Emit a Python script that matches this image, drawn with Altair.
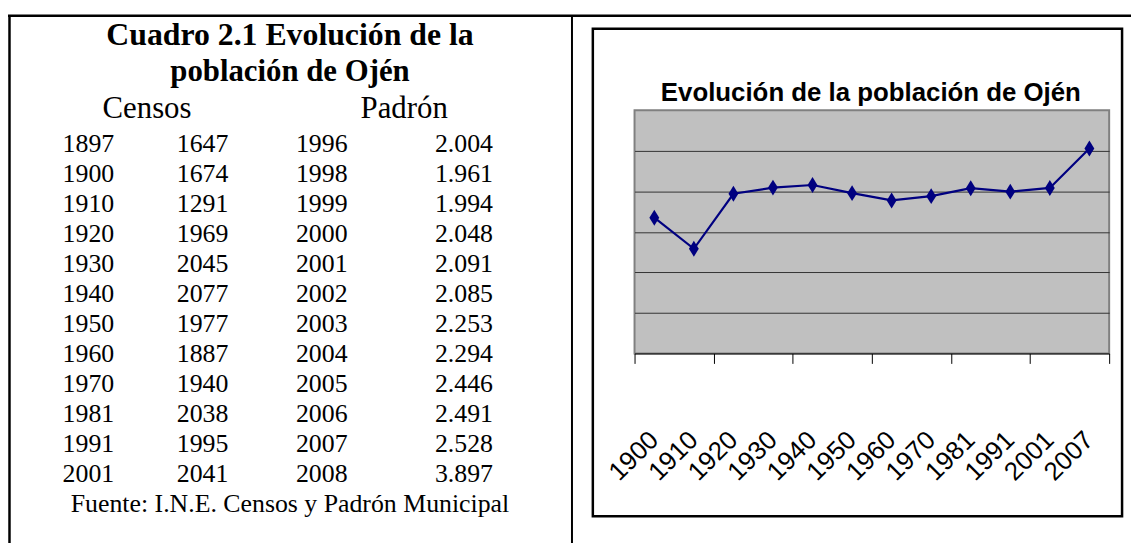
import altair as alt
import pandas as pd

# ---------------- data ----------------
censos_years = ["1897", "1900", "1910", "1920", "1930", "1940", "1950", "1960", "1970", "1981", "1991", "2001"]
censos_values = ["1647", "1674", "1291", "1969", "2045", "2077", "1977", "1887", "1940", "2038", "1995", "2041"]
padron_years = ["1996", "1998", "1999", "2000", "2001", "2002", "2003", "2004", "2005", "2006", "2007", "2008"]
padron_values = ["2.004", "1.961", "1.994", "2.048", "2.091", "2.085", "2.253", "2.294", "2.446", "2.491", "2.528", "3.897"]

chart_years = ["1900", "1910", "1920", "1930", "1940", "1950", "1960", "1970", "1981", "1991", "2001", "2007"]
chart_values = [1674, 1291, 1969, 2045, 2077, 1977, 1887, 1940, 2038, 1995, 2041, 2528]
y_ticks = [0, 500, 1000, 1500, 2000, 2500, 3000]

table_title = ["Cuadro 2.1 Evolución de la", "población de Ojén"]
table_headers = ["Censos", "Padrón"]
table_source = "Fuente: I.N.E. Censos y Padrón Municipal"
chart_title = "Evolución de la población de Ojén"

# ---------------- layout (page pixels) ----------------
PLOT_L, PLOT_T = 639, 109
W, H = 478, 245
CANVAS_W, CANVAS_H = 1131, 537


def X(px):
    return px - PLOT_L


def Y(py):
    return py - PLOT_T


one = alt.Data(values=[{"k": 1}])
SERIF = "Liberation Serif, Times New Roman, serif"
SANS = "Liberation Sans, Arial, sans-serif"

# ---------------- table ----------------
tbl = pd.DataFrame({
    "row": list(range(len(censos_years))),
    "cy": censos_years,
    "cv": censos_values,
    "py": padron_years,
    "pv": padron_values,
})
tbase = alt.Chart(tbl).transform_calculate(ypix=f"{Y(151)} + datum.row * 30.2")


def col(field, left):
    return tbase.mark_text(font=SERIF, fontSize=26, align="left", baseline="alphabetic", color="black").encode(
        x=alt.value(X(left)),
        y=alt.Y("ypix:Q", scale=None, axis=None),
        text=alt.Text(f"{field}:N"),
    )


def label(txt, cx, base, size, weight="normal"):
    return alt.Chart(one).mark_text(
        text=txt, font=SERIF, fontSize=size, fontWeight=weight, align="center",
        baseline="alphabetic", color="black"
    ).encode(x=alt.value(X(cx)), y=alt.value(Y(base)))


table_layers = [
    label(table_title[0], 292, 43, 32, "bold"),
    label(table_title[1], 292, 80, 31, "bold"),
    label(table_headers[0], 148, 117, 31),
    label(table_headers[1], 407, 117, 31),
    col("cy", 63), col("cv", 178), col("py", 298), col("pv", 438),
    label(table_source, 292, 514, 26),
]

# frame lines
top_line = alt.Chart(one).mark_rule(color="black", strokeWidth=2.5).encode(
    x=alt.value(X(8)), x2=alt.value(X(1139)), y=alt.value(Y(14)))
left_line = alt.Chart(one).mark_rule(color="black", strokeWidth=2.5).encode(
    x=alt.value(X(9.5)), y=alt.value(Y(14)), y2=alt.value(Y(545)))
divider = alt.Chart(one).mark_rule(color="black", strokeWidth=2).encode(
    x=alt.value(X(576)), y=alt.value(Y(14)), y2=alt.value(Y(545)))
chart_box = alt.Chart(one).mark_rect(fill="white", fillOpacity=0, stroke="black", strokeWidth=2.5).encode(
    x=alt.value(X(597)), x2=alt.value(X(1130)), y=alt.value(Y(27)), y2=alt.value(Y(518)))
ctitle = alt.Chart(one).mark_text(
    text=chart_title, font=SANS, fontSize=26, fontWeight="bold", align="center",
    baseline="alphabetic", color="black"
).encode(x=alt.value(X(877)), y=alt.value(Y(100)))

# ---------------- line chart ----------------
cd = pd.DataFrame({"i": list(range(len(chart_years))), "year": chart_years, "value": chart_values})
cbase = alt.Chart(cd).transform_calculate(pos="datum.i + 0.5")
boundaries = list(range(len(chart_years) + 1))

xenc = alt.X(
    "pos:Q",
    scale=alt.Scale(domain=[0, len(chart_years)], nice=False, zero=False),
    axis=alt.Axis(values=boundaries, labels=False, tickSize=10, tickColor="black", tickWidth=1,
                  domainColor="black", domainWidth=1, grid=False, title=None),
)
yenc = alt.Y(
    "value:Q",
    scale=alt.Scale(domain=[y_ticks[0], y_ticks[-1]], nice=False),
    axis=alt.Axis(values=y_ticks[1:-1], grid=True, gridColor="#333333", gridWidth=1, labels=False,
                  ticks=False, domain=False, title=None),
)

line = cbase.mark_line(color="#000080", strokeWidth=2.2).encode(x=xenc, y=yenc)
points = cbase.mark_point(shape="M0,-1L0.62,0L0,1L-0.62,0Z", size=256, filled=True,
                          color="#000080", opacity=1).encode(x="pos:Q", y="value:Q")
xlabels = cbase.mark_text(angle=315, align="right", baseline="middle", font=SANS, fontSize=26,
                          color="black").encode(x="pos:Q", y=alt.value(H + 83), text="year:N")

chart = alt.layer(
    top_line, left_line, divider, chart_box, ctitle, *table_layers, line, points, xlabels
).properties(
    width=W, height=H,
    background="white",
    autosize=alt.AutoSizeParams(type="none"),
    padding={"left": PLOT_L - 8, "top": PLOT_T - 8, "right": CANVAS_W - (PLOT_L - 8) - W,
             "bottom": CANVAS_H - (PLOT_T - 8) - H},
).configure_view(stroke="#808080", strokeWidth=2, fill="#C0C0C0")

chart.save("out.html", embed_options={"renderer": "svg", "actions": False})
